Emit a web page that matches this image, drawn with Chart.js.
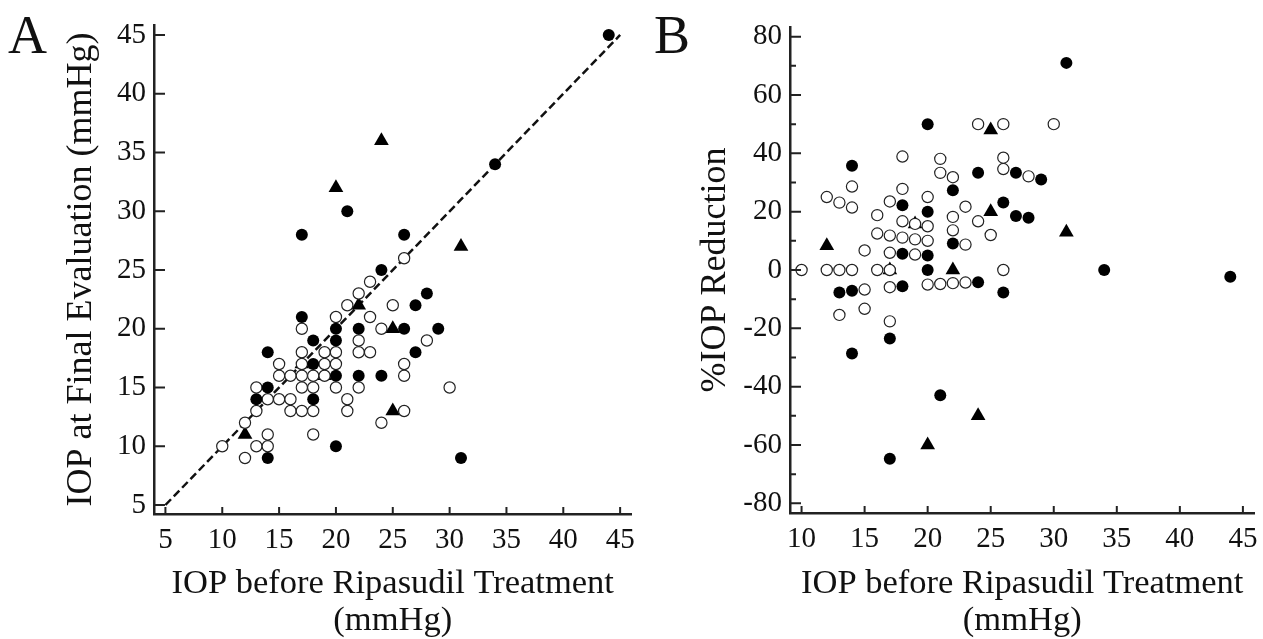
<!DOCTYPE html>
<html>
<head>
<meta charset="utf-8">
<script src="https://cdn.jsdelivr.net/npm/chart.js@4.4.1/dist/chart.umd.min.js"></script>
<style>
html, body { margin: 0; padding: 0; background: #fff; }
#wrap { position: relative; width: 1263px; height: 639px; overflow: hidden; }
canvas { position: absolute; top: 0; }
#chartA { left: 0; }
#chartB { left: 640px; }
.panel { position: absolute; font-family: 'Liberation Serif', 'Times New Roman', serif; font-size: 54px; line-height: 54px; color: #111; }
</style>
</head>
<body>
<div id="wrap">
	<canvas id="chartA" width="640" height="639"></canvas>
	<canvas id="chartB" width="623" height="639"></canvas>
	<div class="panel" style="left:8px;top:8px">A</div>
	<div class="panel" style="left:654px;top:8px">B</div>
</div>
<script>
// panel A: IOP before treatment (x) vs IOP at final evaluation (y), mmHg
// filled circles
let filledX = [44,34,21,17,26,24,28,27,17,20,22,26,29,18,20,14,27,18,20,22,24,14,13,18,20,14,31];
let filledY = [45,34,30,28,28,25,23,22,21,20,20,20,20,19,19,18,18,17,16,16,16,15,14,14,10,9,9];
// open circles
let openX = [26,23,22,21,25,20,23,17,24,22,28,17,19,20,22,23,15,17,19,20,26,15,16,17,18,19,26,13,17,18,20,22,30,14,15,16,21,13,16,17,18,21,26,12,24,14,18,10,13,14,12];
let openY = [26,24,23,22,22,21,21,20,20,19,19,18,18,18,18,18,17,17,17,17,17,16,16,16,16,16,16,15,15,15,15,15,15,14,14,14,14,13,13,13,13,13,13,12,12,11,11,10,10,10,9];
// triangles
let triX = [24,20,31,22,25,25,12,17,19];
let triY = [36,32,27,22,20,13,11,17,16];
// identity line
let diagX = [5,45];
let diagY = [5,45];

// panel B: %IOP reduction for the same eyes (same x order as above)
let filledRed = [-2.3,0,-42.9,-64.7,-7.7,-4.2,17.9,18.5,-23.5,0,9.1,23.1,31.0,-5.6,5,-28.6,33.3,5.6,20,27.3,33.3,-7.1,-7.7,22.2,50,35.7,71.0];
let openRed = [0,-4.3,-4.5,-4.8,12,-5,8.7,-17.6,16.7,13.6,32.1,-5.9,5.3,10,18.2,21.7,-13.3,0,10.5,15,34.6,-6.7,0,5.9,11.1,15.8,38.5,-15.4,11.8,16.7,25,31.8,50,0,6.7,12.5,33.3,0,18.8,23.5,27.8,38.1,50,0,50,21.4,38.9,0,23.1,28.6,25];
let triRed = [-50,-60,12.9,0,20,48,8.3,0,15.8];

// tick values
let ticksA = [5,10,15,20,25,30,35,40,45];
let ticksBx = [10,15,20,25,30,35,40,45];
let ticksBy = [-80,-60,-40,-20,0,20,40,60,80];
let minorBy = [-70,-50,-30,-10,10,30,50,70];

const serif = "'Liberation Serif', 'Times New Roman', serif";
const ink = '#111';

function pts(xs, ys){
	return xs.map((x,i)=>({x: x, y: ys[i]}));
}

// the figure has its tick marks pointing into the plot
function innerTicks(cfg){
	return {
		id: 'innerTicks',
		afterDraw(chart){
			let ctx = chart.ctx;
			let area = chart.chartArea;
			let xs = chart.scales.x;
			let ys = chart.scales.y;
			ctx.save();
			ctx.strokeStyle = '#222';
			ctx.lineWidth = 2;
			ctx.beginPath();
			xs.ticks.forEach(t=>{
				let px = xs.getPixelForValue(t.value);
				ctx.moveTo(px, area.bottom);
				ctx.lineTo(px, area.bottom - cfg.xLen);
			});
			ys.ticks.forEach(t=>{
				let py = ys.getPixelForValue(t.value);
				ctx.moveTo(area.left, py);
				ctx.lineTo(area.left + cfg.yLen, py);
			});
			(cfg.minor || []).forEach(v=>{
				let py = ys.getPixelForValue(v);
				ctx.moveTo(area.left, py);
				ctx.lineTo(area.left + cfg.minorLen, py);
			});
			ctx.stroke();
			ctx.restore();
		}
	};
}

function axis(min, max, tickVals, boxSize, titleText, horizontal, titlePad){
	return {
		type: 'linear',
		min: min,
		max: max,
		afterBuildTicks: s=>{ s.ticks = tickVals.map(v=>({value: v})); },
		afterFit: s=>{
			// fixed box, and no extra room for the end labels
			if(horizontal){
				s.height = boxSize;
				s.paddingLeft = 0;
				s.paddingRight = 0;
			}else{
				s.width = boxSize;
				s.paddingTop = 0;
				s.paddingBottom = 0;
			}
		},
		grid: {display: false, drawTicks: false},
		border: {display: true, color: '#222', width: 2.5},
		ticks: {color: ink, font: {family: serif, size: 29}, padding: horizontal ? 9 : 8, autoSkip: false, maxRotation: 0},
		title: {
			display: true,
			text: titleText,
			color: ink,
			font: horizontal ? {family: serif, size: 34.5, lineHeight: 1.07} : {family: serif, size: 36, lineHeight: 1.03},
			padding: horizontal ? {top: 0, bottom: 0} : {top: titlePad, bottom: 0}
		}
	};
}

function dots(data, kind, order){
	if(kind === 'filled'){
		return {data: data, pointStyle: 'circle', pointRadius: 6, backgroundColor: '#000', borderColor: '#000', borderWidth: 0, order: order, clip: false};
	}
	if(kind === 'open'){
		return {data: data, pointStyle: 'circle', pointRadius: 5.6, backgroundColor: '#fff', borderColor: '#222', borderWidth: 1.2, order: order, clip: false};
	}
	return {data: data, pointStyle: 'triangle', pointRadius: 8.5, backgroundColor: '#000', borderColor: '#000', borderWidth: 0, order: order, clip: false};
}

let common = {
	responsive: false,
	animation: false,
	devicePixelRatio: 1,
	events: [],
	plugins: {legend: {display: false}, tooltip: {enabled: false}}
};

// chart A
new Chart(document.getElementById('chartA').getContext('2d'), {
	type: 'scatter',
	data: {
		datasets: [
			{type: 'line', data: pts(diagX, diagY), borderColor: '#111', borderWidth: 2.5, borderDash: [8,4], pointRadius: 0, fill: false, order: 4},
			dots(pts(triX, triY), 'tri', 3),
			dots(pts(openX, openY), 'open', 2),
			dots(pts(filledX, filledY), 'filled', 1)
		]
	},
	options: Object.assign({}, common, {
		layout: {padding: {top: 25, right: 5, left: 0, bottom: 0}},
		scales: {
			x: axis(3.995, 46.0, ticksA, 125, ['IOP before Ripasudil Treatment', '(mmHg)'], true),
			y: axis(4.234, 45.85, ticksA, 154, 'IOP at Final Evaluation (mmHg)', false, 63)
		}
	}),
	plugins: [innerTicks({xLen: 7, yLen: 11})]
});

// chart B
new Chart(document.getElementById('chartB').getContext('2d'), {
	type: 'scatter',
	data: {
		datasets: [
			dots(pts(triX, triRed), 'tri', 3),
			dots(pts(openX, openRed), 'open', 2),
			dots(pts(filledX, filledRed), 'filled', 1)
		]
	},
	options: Object.assign({}, common, {
		layout: {padding: {top: 27, right: 3, left: 0, bottom: 0}},
		scales: {
			x: axis(9.083, 45.92, ticksBx, 126, ['IOP before Ripasudil Treatment', '(mmHg)'], true),
			y: axis(-83.3, 83.3, ticksBy, 150, '%IOP Reduction', false, 57)
		}
	}),
	plugins: [innerTicks({xLen: 7, yLen: 11, minor: minorBy, minorLen: 6})]
});
</script>
</body>
</html>
